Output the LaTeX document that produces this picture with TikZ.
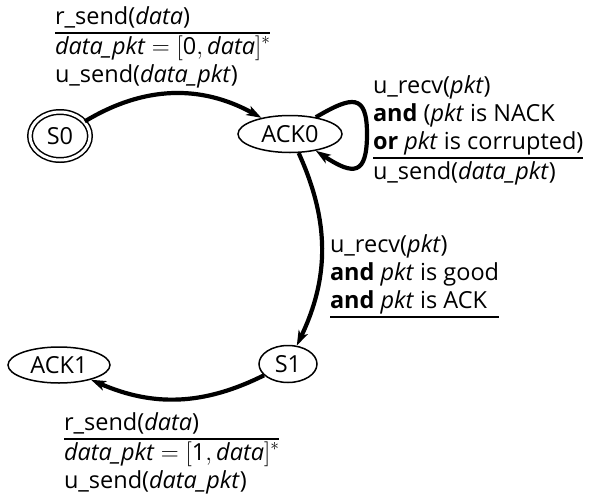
\documentclass[tikz,border=0pt]{standalone}
\usepackage{fontspec}
\setmainfont{Open Sans}
\usetikzlibrary{arrows.meta,shapes.geometric}
\setlength{\arrayrulewidth}{2pt}
\tikzset{
  state/.style={ellipse, draw, line width=1.5pt, inner sep=0pt, font=\fontsize{23.5}{28.5}\selectfont},
  accstate/.style={state, double, double distance=3pt},
  edge/.style={line width=4.2pt, -{Stealth[length=15pt,width=10pt,inset=4pt]}},
  lbl/.style={anchor=base west, inner sep=0pt, outer sep=0pt, font=\fontsize{23.5}{28}\selectfont}
}
\begin{document}
\begin{tikzpicture}[x=1pt,y=1pt]
\useasboundingbox (0,0) rectangle (592,-496);
\node[accstate, minimum width=60pt, minimum height=48pt] (S0) at (60,-136) {S0};
\node[state, minimum width=104pt, minimum height=37pt] (ACK0) at (290,-134) {ACK0};
\node[state, minimum width=58pt, minimum height=37pt] (S1) at (288,-364) {S1};
\node[state, minimum width=102pt, minimum height=36pt] (ACK1) at (59,-365) {ACK1};

\draw[edge] (S0) to[bend left=30] (ACK0);
\draw[edge] (ACK0.33) .. controls (352,-96) and (367,-93) .. (367,-134)
  .. controls (367,-175) and (354,-176) .. (ACK0.-33);
\draw[edge] (ACK0) to[bend left=25] (S1);
\draw[edge] (S1) to[bend left=25] (ACK1);

\node[lbl] (L1) at (55,-24) {\begin{tabular}[t]{@{}l@{}}
r\_send(\textit{data})\\ \hline
$\textit{data\_pkt} = [\textup{0}, \textit{data}]^*$\\
u\_send(\textit{data\_pkt})
\end{tabular}};
\node[lbl] (L2) at (373,-93) {\begin{tabular}[t]{@{}l@{}}
u\_recv(\textit{pkt})\\
\textbf{and} (\textit{pkt} is NACK\\
\textbf{or} \textit{pkt} is corrupted)\\ \hline
u\_send(\textit{data\_pkt})
\end{tabular}};
\node[lbl] (L3) at (330,-252) {\begin{tabular}[t]{@{}l@{}}
u\_recv(\textit{pkt})\\
\textbf{and} \textit{pkt} is good\\
\textbf{and} \textit{pkt} is ACK\\ \hline
\end{tabular}};
\node[lbl] (L4) at (64,-430) {\begin{tabular}[t]{@{}l@{}}
r\_send(\textit{data})\\ \hline
$\textit{data\_pkt} = [\textup{1}, \textit{data}]^*$\\
u\_send(\textit{data\_pkt})
\end{tabular}};
\end{tikzpicture}
\end{document}
